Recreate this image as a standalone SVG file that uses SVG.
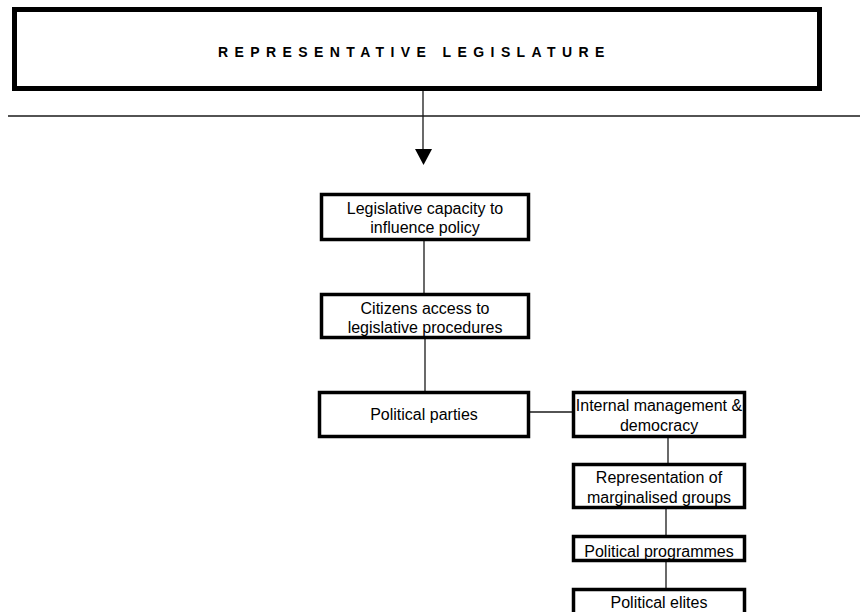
<svg xmlns="http://www.w3.org/2000/svg" width="860" height="612" viewBox="0 0 860 612">
<style>
.box{fill:#fff;stroke:#000;stroke-width:3.5}
.t{font-family:"Liberation Sans",Arial,sans-serif;font-size:16px;fill:#000;text-anchor:middle}
.title{font-family:"Liberation Sans",Arial,sans-serif;font-size:14px;font-weight:bold;fill:#000;letter-spacing:6.4px}
.c{stroke:#1a1a1a;stroke-width:1.3;fill:none}
</style>
<rect width="860" height="612" fill="#fff"/>
<g id="connectors">
<line class="c" x1="8" y1="116" x2="860" y2="116"/>
<line class="c" x1="423" y1="91" x2="423" y2="150"/>
<polygon points="415,149 432,149 423.5,165" fill="#000"/>
<line class="c" x1="424" y1="241" x2="424" y2="293"/>
<line class="c" x1="425" y1="339" x2="425" y2="391"/>
<line class="c" x1="530" y1="412" x2="572" y2="412"/>
<line class="c" x1="668" y1="438" x2="668" y2="463"/>
<line class="c" x1="666" y1="509" x2="666" y2="535"/>
<line class="c" x1="666" y1="562" x2="666" y2="588"/>
</g>
<g id="main">
<rect x="14.5" y="9.5" width="805" height="79" fill="#fff" stroke="#000" stroke-width="5"/>
<text class="title" x="218" y="57">REPRESENTATIVE LEGISLATURE</text>
</g>
<g id="n1">
<rect class="box" x="321.5" y="194.5" width="207" height="45"/>
<text class="t" x="425" y="213.5">Legislative capacity to</text>
<text class="t" x="425" y="232.5">influence policy</text>
</g>
<g id="n2">
<rect class="box" x="321.5" y="294.5" width="207" height="43"/>
<text class="t" x="425" y="313.5">Citizens access to</text>
<text class="t" x="425" y="332.5">legislative procedures</text>
</g>
<g id="n3">
<rect class="box" x="319.5" y="392.5" width="209" height="44"/>
<text class="t" x="424" y="419.5">Political parties</text>
</g>
<g id="n4">
<rect class="box" x="573.5" y="392.5" width="171" height="44"/>
<text class="t" x="659" y="410.5">Internal management &amp;</text>
<text class="t" x="659" y="430.5">democracy</text>
</g>
<g id="n5">
<rect class="box" x="573.5" y="464.5" width="171" height="43"/>
<text class="t" x="659" y="482.5">Representation of</text>
<text class="t" x="659" y="502.5">marginalised groups</text>
</g>
<g id="n6">
<rect class="box" x="573.5" y="536.5" width="171" height="24"/>
<text class="t" x="659" y="556.5">Political programmes</text>
</g>
<g id="n7">
<rect class="box" x="573.5" y="589.5" width="171" height="40"/>
<text class="t" x="659" y="607.5">Political elites</text>
</g>
</svg>
